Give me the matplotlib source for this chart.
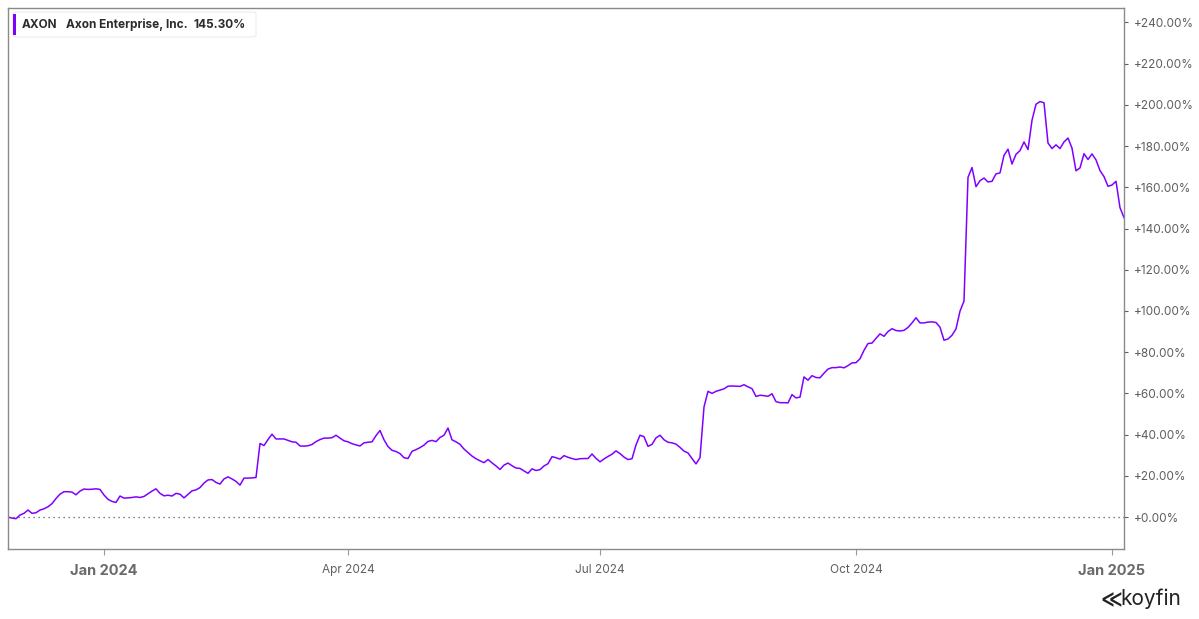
import numpy as np
import matplotlib.pyplot as plt
from matplotlib.patches import FancyBboxPatch, Rectangle

# AXON cumulative return (%), one value per trading day, late Nov 2023 -> early Jan 2025
axon_pct = [
    0.0, -0.5, -0.8, 1.0, 1.8, 3.4, 1.8, 2.1, 3.4, 4.0,
    5.0, 6.5, 9.0, 11.1, 12.3, 12.3, 12.1, 10.8, 12.6, 13.6,
    13.4, 13.5, 13.7, 13.4, 10.7, 8.6, 7.6, 7.1, 10.2, 9.2,
    9.3, 9.5, 9.8, 9.5, 10.0, 11.3, 12.6, 13.7, 11.5, 10.3,
    10.6, 10.2, 11.5, 11.1, 9.3, 11.0, 12.7, 13.2, 14.3, 16.5,
    18.0, 18.2, 16.8, 16.0, 18.5, 19.5, 18.5, 17.3, 15.5, 18.9,
    18.9, 19.0, 19.2, 35.7, 34.7, 37.6, 40.2, 37.9, 37.9, 37.9,
    37.2, 36.5, 36.3, 34.5, 34.4, 34.6, 35.2, 36.6, 37.6, 38.3,
    38.3, 38.5, 39.7, 38.3, 37.0, 36.5, 35.6, 35.0, 34.5, 36.0,
    36.3, 36.5, 39.5, 42.0, 37.5, 34.2, 32.4, 31.8, 30.8, 28.8,
    28.4, 31.9, 32.7, 33.7, 34.9, 36.7, 37.2, 36.6, 38.6, 39.7,
    43.2, 37.5, 36.5, 35.3, 33.0, 31.3, 29.6, 28.3, 27.3, 26.4,
    27.9, 26.3, 24.8, 23.1, 25.2, 26.2, 24.9, 23.8, 23.6, 22.4,
    21.2, 23.4, 22.6, 23.0, 24.8, 25.9, 29.3, 28.8, 28.1, 29.8,
    29.0, 28.4, 27.9, 28.3, 28.4, 28.4, 30.6, 28.5, 26.8, 28.2,
    29.4, 30.5, 32.1, 30.8, 29.1, 27.9, 28.3, 35.0, 39.7, 39.0,
    34.3, 35.3, 38.4, 39.7, 37.5, 36.3, 36.0, 35.4, 33.8, 32.0,
    31.1, 28.4, 25.8, 28.8, 53.4, 61.0, 60.0, 61.0, 61.6, 62.2,
    63.5, 63.6, 63.5, 63.4, 64.2, 63.2, 62.3, 58.5, 59.1, 58.9,
    58.6, 59.8, 56.0, 55.5, 55.5, 55.4, 59.4, 57.8, 58.2, 68.0,
    66.4, 68.6, 67.7, 67.6, 69.8, 71.8, 72.5, 72.5, 72.8, 72.4,
    73.5, 74.8, 74.9, 76.8, 80.9, 84.2, 84.4, 86.7, 88.9, 87.7,
    90.0, 91.4, 90.5, 90.3, 90.6, 92.0, 94.2, 96.7, 94.2, 94.2,
    94.6, 94.7, 94.4, 92.1, 85.8, 86.4, 88.2, 91.3, 99.9, 104.8,
    164.8, 169.6, 160.3, 163.2, 164.5, 162.6, 162.9, 166.5, 167.0, 175.5,
    178.5, 171.3, 176.0, 177.8, 182.0, 178.3, 192.5, 200.3, 201.6, 201.0,
    181.5, 178.8, 180.6, 178.8, 182.0, 183.9, 179.0, 168.0, 169.4, 176.3,
    173.5, 176.2, 173.3, 168.1, 165.2, 160.5, 161.1, 162.9, 150.1, 145.3,
]

# quarter-start positions (trading-day index) and their labels
tick_idx = [24, 85, 148, 212, 276]
tick_lbl = ["Jan 2024", "Apr 2024", "Jul 2024", "Oct 2024", "Jan 2025"]
ytick_vals = list(range(0, 241, 20))

ticker = "AXON"
company = "Axon Enterprise, Inc."
last_ret = "145.30%"

plt.rcParams['font.family'] = ['Inter', 'DejaVu Sans']
line_col = '#8000ff'
grey = '#5f5f5f'

fig = plt.figure(figsize=(11.99, 6.19), dpi=100)
W, H = 1199, 619
ax = fig.add_axes([8 / W, 1 - 549 / H, (1124 - 8) / W, (549 - 8) / H])

x = np.arange(len(axon_pct))
ax.plot(x, axon_pct, color=line_col, lw=1.1)
ax.axhline(0, color='#555555', lw=0.9, ls=(0, (1, 3)))

ax.set_xlim(0, len(axon_pct) - 1)
ax.set_ylim(-15.5, 247)

for s in ax.spines.values():
    s.set_color('#8a8a8a')
    s.set_linewidth(1.0)

ax.yaxis.tick_right()
ax.set_yticks(ytick_vals)
ax.set_yticklabels(["+%.2f%%" % v for v in ytick_vals])
ax.tick_params(axis='y', length=3, color=grey, labelsize=8.5, labelcolor=grey, pad=4)

ax.set_xticks(tick_idx)
ax.set_xticklabels(tick_lbl)
ax.tick_params(axis='x', length=4, color='#9a9a9a', labelsize=8.5, labelcolor=grey, pad=7)
for t in ax.get_xticklabels():
    if t.get_text().startswith("Jan"):
        t.set_fontweight('bold')
        t.set_fontsize(10.5)
        t.set_color('#6a6a6a')

# legend box top-left
box = FancyBboxPatch((13 / W, 1 - 37 / H), 243 / W, 25 / H,
                     boxstyle="round,pad=0,rounding_size=0.003",
                     transform=fig.transFigure, facecolor='white',
                     edgecolor='#ececec', lw=0.8, zorder=5)
fig.patches.append(box)
fig.patches.append(Rectangle((13 / W, 1 - 35 / H), 3 / W, 21 / H,
                             transform=fig.transFigure, facecolor=line_col,
                             edgecolor='none', zorder=6))
fig.text(22 / W, 1 - 25 / H, ticker, fontsize=8.5, fontweight='bold',
         color='#2b2b2b', va='center', zorder=7)
fig.text(66 / W, 1 - 25 / H, company, fontsize=8.5, fontweight='bold',
         color='#2b2b2b', va='center', zorder=7)
fig.text(194 / W, 1 - 25 / H, last_ret, fontsize=8.5, fontweight='bold',
         color='#2b2b2b', va='center', zorder=7)

# koyfin mark
fig.text(1100 / W, 1 - 600 / H, "≪", fontsize=15, fontweight='bold',
         color='#222222', va='center', family='DejaVu Sans')
fig.text(1120 / W, 1 - 599 / H, "koyfin", fontsize=15, color='#222222', va='center')

fig.savefig("out.png", dpi=100)
